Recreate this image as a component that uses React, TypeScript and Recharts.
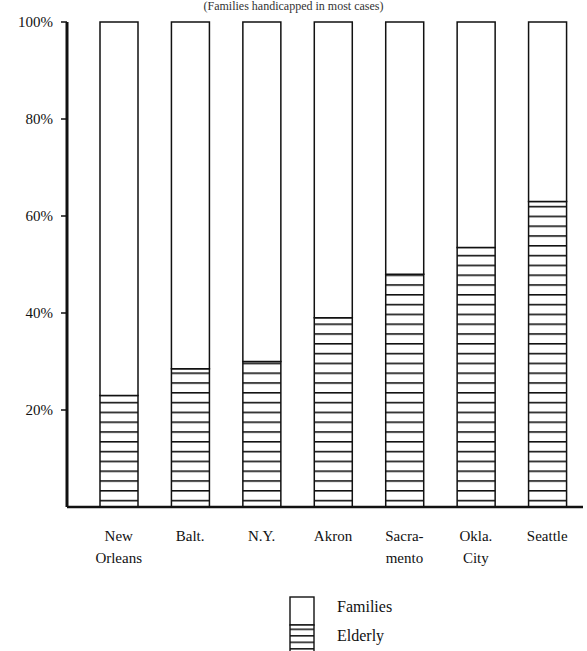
import { BarChart, Bar, XAxis, YAxis } from 'recharts';

const cities = ['New\nOrleans', 'Balt.', 'N.Y.', 'Akron', 'Sacra-\nmento', 'Okla.\nCity', 'Seattle'];
const elderly = [23, 28.5, 30, 39, 48, 53.5, 63];
const families = [77, 71.5, 70, 61, 52, 46.5, 37];
const yTicks = [20, 40, 60, 80, 100];

const chartData = cities.map((city, i) => ({
  city,
  Elderly: elderly[i],
  Families: families[i],
}));

const FONT = '"Liberation Serif", "DejaVu Serif", serif';

const CityTick = ({ x, y, payload }: any) => {
  const lines = String(payload.value).split('\n');
  return (
    <text x={x} y={y} textAnchor="middle" fontFamily={FONT} fontSize={15} fill="#111">
      {lines.map((line, i) => (
        <tspan key={i} x={x} dy={i === 0 ? 26 : 22}>
          {line}
        </tspan>
      ))}
    </text>
  );
};

const LegendBox = () => (
  <svg width={130} height={56} style={{ display: 'block' }}>
    <defs>
      <pattern id="legendHatch" patternUnits="userSpaceOnUse" width={10} height={6.5}>
        <rect width={10} height={6.5} fill="#fff" />
        <line x1={0} y1={0.8} x2={10} y2={0.8} stroke="#111" strokeWidth={1.5} />
      </pattern>
    </defs>
    <rect x={1} y={1} width={24} height={28} fill="#fff" stroke="#111" strokeWidth={1.4} />
    <rect x={1} y={29} width={24} height={30} fill="url(#legendHatch)" stroke="#111" strokeWidth={1.4} />
    <text x={48} y={16} fontFamily={FONT} fontSize={16} fill="#111">Families</text>
    <text x={48} y={45} fontFamily={FONT} fontSize={16} fill="#111">Elderly</text>
  </svg>
);

export default function App() {
  return (
    <div
      style={{
        position: 'absolute',
        left: 0,
        top: 0,
        width: 587,
        height: 651,
        overflow: 'hidden',
        background: '#fff',
      }}
    >
      <div
        style={{
          position: 'absolute',
          top: 0,
          left: 0,
          width: 587,
          textAlign: 'center',
          fontFamily: FONT,
          fontSize: 12,
          lineHeight: '13px',
          color: '#333',
        }}
      >
        (Families handicapped in most cases)
      </div>
      <BarChart
        width={587}
        height={651}
        data={chartData}
        margin={{ top: 22, right: 4, left: 0, bottom: 84 }}
        barSize={38}
      >
        <defs>
          <pattern id="hatch" patternUnits="userSpaceOnUse" width={10} height={9.8}>
            <rect width={10} height={9.8} fill="#fff" />
            <line x1={0} y1={0.8} x2={10} y2={0.8} stroke="#111" strokeWidth={1.6} />
          </pattern>
        </defs>
        <XAxis
          dataKey="city"
          height={60}
          interval={0}
          padding={{ left: 16, right: 0 }}
          tickLine={false}
          axisLine={{ stroke: '#111', strokeWidth: 2.5 }}
          tick={<CityTick />}
        />
        <YAxis
          width={67}
          domain={[0, 100]}
          ticks={yTicks}
          tickSize={6}
          tickFormatter={(v) => `${v}%`}
          tick={{ fontFamily: FONT, fontSize: 15, fill: '#111', dx: -6 }}
          tickLine={{ stroke: '#111', strokeWidth: 1.5 }}
          axisLine={{ stroke: '#111', strokeWidth: 3 }}
        />
        <Bar
          dataKey="Elderly"
          stackId="a"
          fill="url(#hatch)"
          stroke="#111"
          strokeWidth={1.5}
          isAnimationActive={false}
        />
        <Bar
          dataKey="Families"
          stackId="a"
          fill="#fff"
          stroke="#111"
          strokeWidth={1.5}
          isAnimationActive={false}
        />
      </BarChart>
      <div style={{ position: 'absolute', left: 289, top: 596 }}>
        <LegendBox />
      </div>
    </div>
  );
}
